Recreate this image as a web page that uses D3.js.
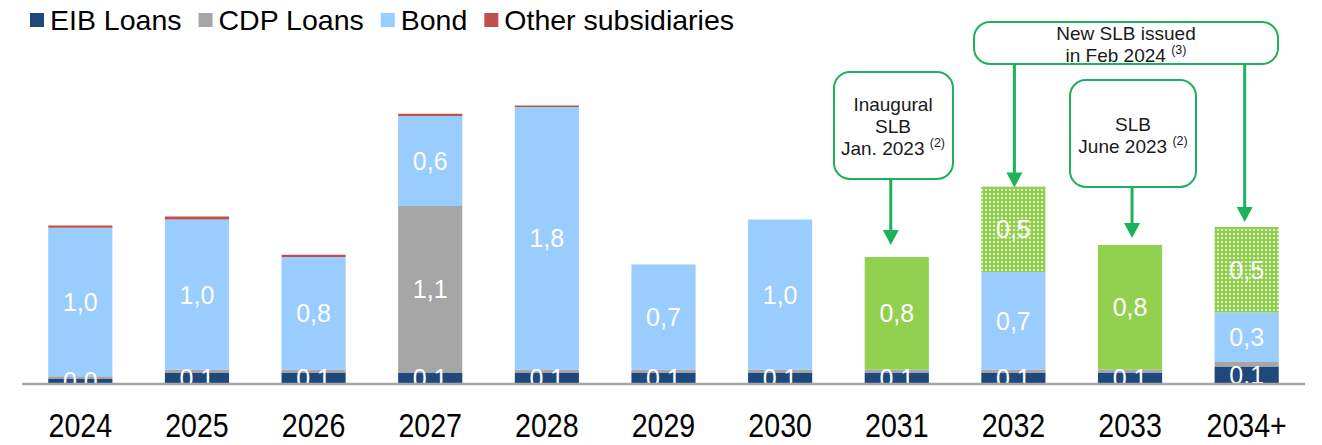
<!DOCTYPE html>
<html>
<head>
<meta charset="utf-8">
<script src="https://cdn.jsdelivr.net/npm/d3@7"></script>
<style>
  html, body { margin: 0; padding: 0; background: #fff; }
  svg { display: block; }
</style>
</head>
<body>
<div id="chart"></div>
<script>
const years = ['2024', '2025', '2026', '2027', '2028', '2029', '2030', '2031', '2032', '2033', '2034+'];

// stacked values, bottom to top (bn EUR)
const eibLoans = [0.03, 0.07, 0.07, 0.07, 0.07, 0.07, 0.07, 0.07, 0.07, 0.07, 0.11];
const cdpLoans = [0.015, 0.02, 0.02, 1.11, 0.02, 0.02, 0.02, 0.02, 0.02, 0.02, 0.03];
const bond = [0.99, 1.0, 0.75, 0.6, 1.75, 0.7, 1.0, 0, 0.65, 0, 0.33];
const slb = [0, 0, 0, 0, 0, 0, 0, 0.75, 0, 0.83, 0];
const slbNew = [0, 0, 0, 0, 0, 0, 0, 0, 0.57, 0, 0.57];
const otherSubs = [0.015, 0.02, 0.015, 0.015, 0.01, 0, 0, 0, 0, 0, 0];

// data labels as printed on the chart
const eibLabels = ['0,0', '0,1', '0,1', '0,1', '0,1', '0,1', '0,1', '0,1', '0,1', '0,1', '0,1'];
const cdpLabels = ['', '', '', '1,1', '', '', '', '', '', '', ''];
const bondLabels = ['1,0', '1,0', '0,8', '0,6', '1,8', '0,7', '1,0', '', '0,7', '', '0,3'];
const slbLabels = ['', '', '', '', '', '', '', '0,8', '', '0,8', ''];
const slbNewLabels = ['', '', '', '', '', '', '', '', '0,5', '', '0,5'];

const legendItems = ['EIB Loans', 'CDP Loans', 'Bond', 'Other subsidiaries'];

const W = 1322, H = 445;
const BASE = 383;

const svg = d3.select('#chart').append('svg')
  .attr('width', W).attr('height', H)
  .style('font-family', "'Liberation Sans', Arial, sans-serif");

const defs = svg.append('defs');
const pat = defs.append('pattern')
  .attr('id', 'dots').attr('patternUnits', 'userSpaceOnUse')
  .attr('width', 4).attr('height', 4);
pat.append('rect').attr('width', 4).attr('height', 4).attr('fill', '#8fcf4b');
pat.append('rect').attr('x', 1).attr('y', 1).attr('width', 2).attr('height', 2).attr('fill', '#e3f3d0');

const x = d3.scaleBand().domain(years).range([22, 1305]).paddingInner(0.45).paddingOuter(0.225);
const y = d3.scaleLinear().domain([0, 2]).range([BASE, BASE - 300]);

const series = [
  { key: 'eib', values: eibLoans, labels: eibLabels, fill: '#1f497d' },
  { key: 'cdp', values: cdpLoans, labels: cdpLabels, fill: '#a6a6a6' },
  { key: 'bond', values: bond, labels: bondLabels, fill: '#99ccff' },
  { key: 'slb', values: slb, labels: slbLabels, fill: '#92d050' },
  { key: 'slbNew', values: slbNew, labels: slbNewLabels, fill: 'url(#dots)' },
  { key: 'other', values: otherSubs, labels: null, fill: '#c0504d' }
];

const stack = d3.stack().keys(series.map(s => s.key));
const rows = years.map((yr, i) => {
  const r = { year: yr };
  series.forEach(s => { r[s.key] = s.values[i]; });
  return r;
});
const stacked = stack(rows);

const barsG = svg.append('g');
stacked.forEach((layer, li) => {
  const s = series[li];
  barsG.append('g').selectAll('rect')
    .data(layer.filter(d => d[1] - d[0] > 0))
    .enter().append('rect')
    .attr('x', d => x(d.data.year))
    .attr('y', d => y(d[1]))
    .attr('width', x.bandwidth())
    .attr('height', d => y(d[0]) - y(d[1]))
    .attr('fill', s.fill);
});

const labelG = svg.append('g')
  .attr('fill', '#fff').attr('font-size', 25).attr('text-anchor', 'middle');
stacked.forEach((layer, li) => {
  const s = series[li];
  if (!s.labels) return;
  layer.forEach((d, i) => {
    if (!s.labels[i]) return;
    labelG.append('text')
      .attr('x', x(d.data.year) + x.bandwidth() / 2)
      .attr('y', (y(d[0]) + y(d[1])) / 2)
      .attr('dy', '0.36em')
      .text(s.labels[i]);
  });
});

// baseline
svg.append('line')
  .attr('x1', 22).attr('x2', 1305).attr('y1', BASE + 1).attr('y2', BASE + 1)
  .attr('stroke', '#a6a6a6').attr('stroke-width', 2.5);

// year labels (condensed look)
svg.append('g').selectAll('text')
  .data(years).enter().append('text')
  .attr('x', d => x(d) + x.bandwidth() / 2)
  .attr('y', 437)
  .attr('text-anchor', 'middle')
  .attr('font-size', 34)
  .attr('fill', '#000')
  .text(d => d)
  .each(function () {
    const w = this.getComputedTextLength();
    d3.select(this).attr('textLength', w * 0.84).attr('lengthAdjust', 'spacingAndGlyphs');
  });

// legend
const legColors = ['#1f497d', '#a6a6a6', '#99ccff', '#c0504d'];
const legG = svg.append('g').attr('font-size', 28.5).attr('fill', '#000');
let lx = 30;
legendItems.forEach((name, i) => {
  legG.append('rect').attr('x', lx).attr('y', 13).attr('width', 14).attr('height', 14).attr('fill', legColors[i]);
  const t = legG.append('text').attr('x', lx + 20).attr('y', 30).text(name);
  lx += 20 + t.node().getComputedTextLength() + 17;
});

// callouts
const green = '#1db15a';
const ann = svg.append('g').attr('font-size', 19).attr('fill', '#1a1a1a').attr('text-anchor', 'middle');

function box(x0, y0, w, h) {
  ann.append('rect').attr('x', x0).attr('y', y0).attr('width', w).attr('height', h)
    .attr('rx', 16).attr('fill', '#fff').attr('stroke', green).attr('stroke-width', 2);
}
function arrow(ax, y0, y1) {
  ann.append('line').attr('x1', ax).attr('x2', ax).attr('y1', y0).attr('y2', y1 - 14)
    .attr('stroke', green).attr('stroke-width', 3);
  ann.append('path').attr('d', `M${ax - 8},${y1 - 15}L${ax + 8},${y1 - 15}L${ax},${y1}Z`).attr('fill', green);
}
function line(cx, by, txt, sup) {
  const t = ann.append('text').attr('x', cx).attr('y', by).text(txt);
  if (sup) {
    t.append('tspan').text(' ');
    t.append('tspan').attr('font-size', 12.5).attr('dy', -8).text(sup);
  }
}

const c2031 = x('2031') + x.bandwidth() / 2;
const c2032 = x('2032') + x.bandwidth() / 2;
const c2033 = x('2033') + x.bandwidth() / 2;
const c2034 = x('2034+') + x.bandwidth() / 2;

arrow(c2031 - 6, 179, y(eibLoans[7] + cdpLoans[7] + slb[7]) - 12);
box(834, 72, 119, 107);
line(893, 111, 'Inaugural');
line(893, 133, 'SLB');
line(893, 155, 'Jan. 2023', '(2)');

arrow(c2033 + 2, 187, y(eibLoans[9] + cdpLoans[9] + slb[9]) - 7);
box(1070, 80, 126, 107);
line(1133, 131, 'SLB');
line(1133, 153, 'June 2023', '(2)');

arrow(c2032 + 1, 64, y(eibLoans[8] + cdpLoans[8] + bond[8] + slbNew[8]) + 1);
arrow(c2034 - 2, 64, y(eibLoans[10] + cdpLoans[10] + bond[10] + slbNew[10]) - 5);
box(974, 22, 304, 42);
line(1126, 40, 'New SLB issued');
line(1126, 62, 'in Feb 2024', '(3)');
</script>
</body>
</html>
